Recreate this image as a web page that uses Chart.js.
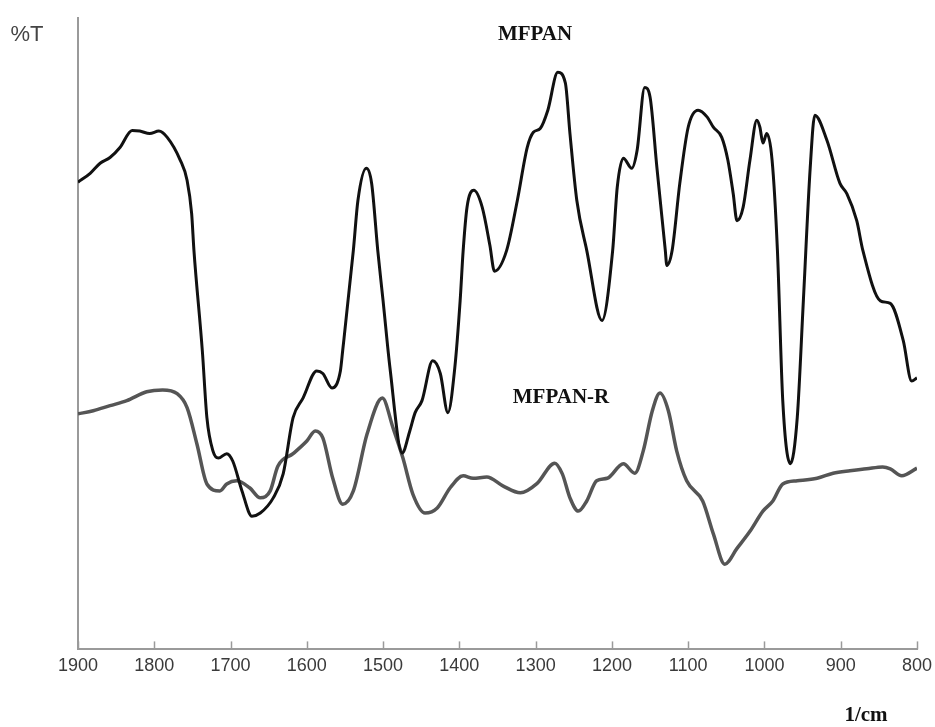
<!DOCTYPE html>
<html>
<head>
<meta charset="utf-8">
<script src="https://cdn.jsdelivr.net/npm/chart.js@4.4.1/dist/chart.umd.min.js"></script>
<style>
  html, body { margin: 0; padding: 0; background: #fff; }
  #wrap { width: 935px; height: 727px; position: relative; }
</style>
</head>
<body>
<div id="wrap"><canvas id="c" width="935" height="727"></canvas></div>
<script>
// ---- Data ----
const seriesNames = ["MFPAN", "MFPAN-R"];
const xTicks = [1900, 1800, 1700, 1600, 1500, 1400, 1300, 1200, 1100, 1000, 900, 800];

const mfpanWave = [1900,1884,1871,1858,1845,1829,1819,1806,1794,1783,1766,1757,1751,1748,1737,1731,1723,1716,1705,1697,1685,1672,1661,1644,1631,1618,1605,1587,1579,1567,1556,1553,1539,1533,1522,1515,1507,1500,1491,1475,1465,1458,1449,1435,1425,1415,1406,1399,1395,1390,1381,1370,1360,1354,1338,1324,1311,1303,1294,1284,1271,1261,1255,1246,1233,1213,1199,1193,1185,1174,1167,1157,1150,1141,1130,1128,1121,1111,1100,1087,1075,1067,1056,1048,1041,1036,1028,1019,1010,1006,1002,997,990,983,976,966,957,949,940,934,918,901,892,879,871,848,835,818,807,800];
const mfpanT = [74.0,75.4,77.0,77.9,79.5,82.2,82.1,81.7,82.1,81.1,77.5,74.3,69.0,63.2,47.3,36.7,31.4,30.3,31.0,29.8,25.1,21.1,21.6,24.0,27.8,36.7,39.8,44.1,43.7,41.4,44.1,47.3,63.2,71.1,76.2,73.8,63.2,55.2,44.6,31.1,34.6,37.5,39.4,45.7,43.7,37.5,44.6,55.2,63.2,70.0,72.7,70.0,64.0,59.9,63.2,71.1,79.5,81.9,82.5,85.4,91.4,89.7,81.7,71.1,63.2,52.1,63.2,73.2,77.8,76.2,79.0,89.0,87.5,76.3,63.2,60.8,63.2,73.8,82.7,85.4,84.3,82.7,81.1,77.5,72.2,67.9,70.0,77.5,83.8,82.7,80.2,81.7,77.5,63.2,39.4,29.4,36.7,55.2,76.3,84.6,80.6,73.8,72.2,67.9,63.2,55.2,54.8,48.9,42.5,43.0];

const mfpanRWave = [1900,1880,1858,1836,1810,1789,1770,1757,1744,1731,1714,1705,1692,1675,1661,1648,1638,1618,1600,1589,1579,1566,1553,1539,1521,1501,1487,1474,1461,1445,1429,1412,1395,1382,1364,1343,1320,1298,1275,1265,1255,1244,1233,1220,1206,1185,1170,1159,1147,1137,1126,1115,1102,1081,1067,1052,1036,1019,1002,989,976,957,931,910,888,866,845,835,820,800];
const mfpanRT = [37.3,37.8,38.6,39.4,40.8,41.1,40.5,38.3,32.5,26.2,25.1,26.2,26.7,25.6,24.0,25.1,29.0,31.0,33.0,34.6,33.5,27.1,23.0,25.1,34.1,39.8,35.1,30.3,24.6,21.6,22.4,25.6,27.5,27.1,27.3,25.9,24.8,26.3,29.5,27.8,24.0,21.9,23.5,26.7,27.1,29.4,27.9,31.4,37.8,40.6,37.8,31.4,26.7,23.5,18.3,13.5,16.0,18.7,21.9,23.5,26.2,26.7,27.1,27.9,28.3,28.6,28.9,28.6,27.5,28.7];

const toPoints = (xs, ys) => xs.map((x, i) => ({ x: x, y: ys[i] }));

// inward tick marks drawn from the x scale
const inwardTicks = {
  id: 'inwardTicks',
  afterDraw(chart) {
    const ctx = chart.ctx, xs = chart.scales.x, bottom = chart.chartArea.bottom;
    ctx.save();
    ctx.strokeStyle = '#9a9a9a';
    ctx.lineWidth = 1.5;
    xTicks.forEach(v => {
      const px = Math.round(xs.getPixelForValue(v)) + 0.5;
      ctx.beginPath();
      ctx.moveTo(px, bottom);
      ctx.lineTo(px, bottom - 8);
      ctx.stroke();
    });
    ctx.restore();
  }
};

const labelsPlugin = {
  id: 'labels',
  afterDraw(chart) {
    const ctx = chart.ctx;
    ctx.save();
    ctx.textBaseline = 'middle';
    ctx.textAlign = 'center';
    ctx.fillStyle = '#444';
    ctx.font = '22px "Liberation Sans", Arial, sans-serif';
    ctx.fillText('%T', 27, 35);
    ctx.fillStyle = '#111';
    ctx.font = 'bold 21px "Liberation Serif", "Times New Roman", serif';
    ctx.fillText(seriesNames[0], 535, 35);
    ctx.fillText(seriesNames[1], 561, 398);
    ctx.fillText('1/cm', 866, 716);
    ctx.restore();
  }
};

new Chart(document.getElementById('c'), {
  type: 'line',
  data: {
    datasets: [
      {
        label: seriesNames[0],
        data: toPoints(mfpanWave, mfpanT),
        borderColor: '#111111',
        borderWidth: 3,
        pointRadius: 0,
        cubicInterpolationMode: 'monotone',
        fill: false
      },
      {
        label: seriesNames[1],
        data: toPoints(mfpanRWave, mfpanRT),
        borderColor: '#555555',
        borderWidth: 3.5,
        pointRadius: 0,
        cubicInterpolationMode: 'monotone',
        fill: false
      }
    ]
  },
  options: {
    responsive: false,
    animation: false,
    devicePixelRatio: 1,
    layout: { padding: { left: 78, right: 18, top: 18, bottom: 44 } },
    plugins: { legend: { display: false }, tooltip: { enabled: false } },
    scales: {
      x: {
        type: 'linear',
        reverse: true,
        min: 800,
        max: 1900,
        afterBuildTicks(scale) { scale.ticks = xTicks.map(v => ({ value: v })); },
        afterFit(scale) { scale.paddingRight = 0; scale.paddingLeft = 0; },
        ticks: {
          color: '#3a3a3a',
          font: { family: '"Liberation Sans", Arial, sans-serif', size: 18 },
          padding: 6,
          maxRotation: 0,
          autoSkip: false,
          callback: (v) => String(v)
        },
        grid: { display: false, drawTicks: false },
        border: { display: true, color: '#9a9a9a', width: 2 }
      },
      y: {
        min: 0,
        max: 100,
        ticks: { display: false },
        grid: { display: false, drawTicks: false },
        border: { display: true, color: '#9a9a9a', width: 2 }
      }
    }
  },
  plugins: [inwardTicks, labelsPlugin]
});
</script>
</body>
</html>
